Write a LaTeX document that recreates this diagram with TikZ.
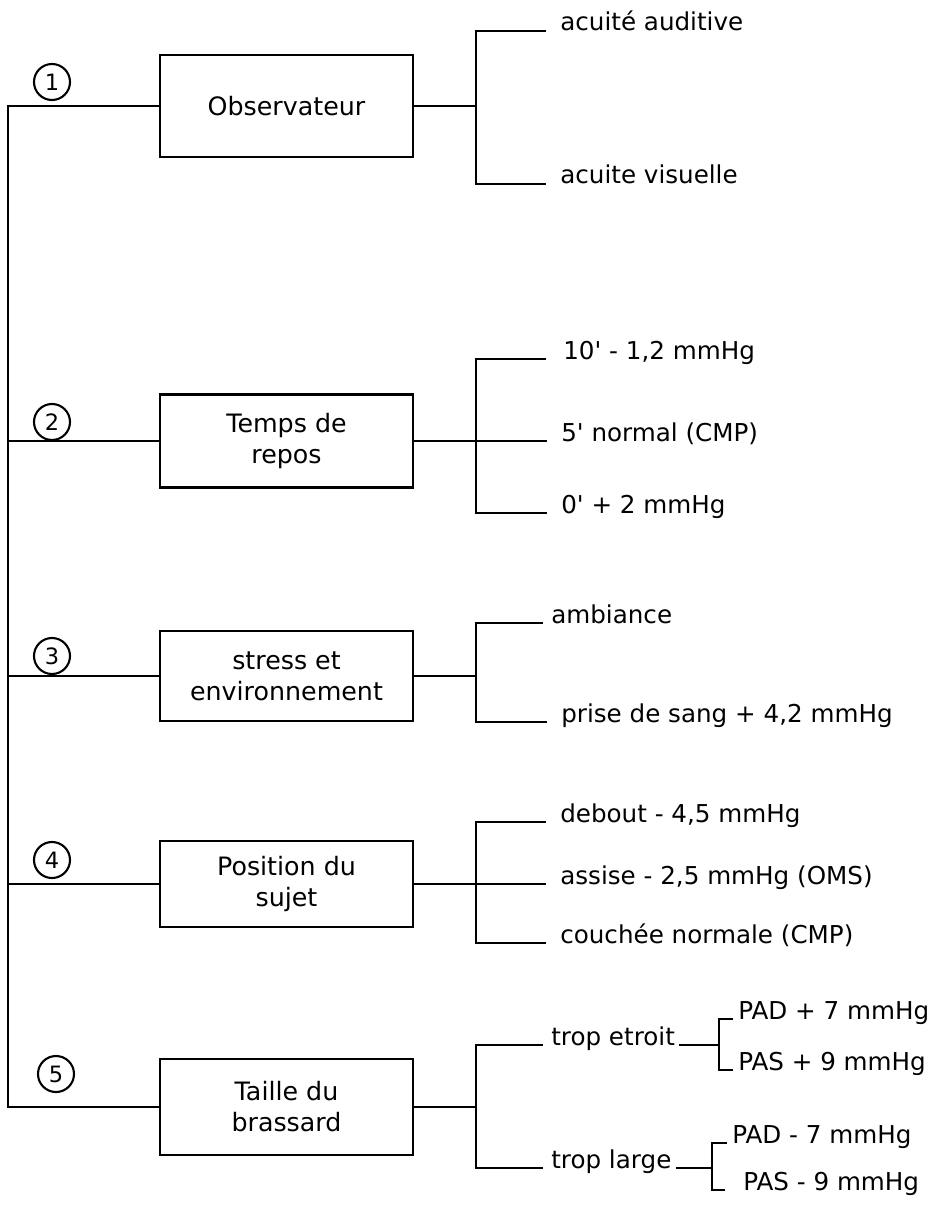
\documentclass[tikz,border=0pt]{standalone}
\usepackage{fontspec}
\setmainfont{DejaVu Sans}[Ligatures=TeXOff]
\usetikzlibrary{positioning,calc}
\tikzset{cbox/.style={draw, line width=2pt, minimum width=6.325cm, align=center, inner sep=2pt, font=\fontsize{18}{22}\selectfont}}
\tikzset{leaf/.style={anchor=base west, inner sep=0pt, font=\fontsize{17.5}{21}\selectfont}}
\tikzset{num/.style={circle, draw, line width=1.5pt, minimum size=0.9cm, inner sep=0pt, font=\fontsize{16}{16}\selectfont}}
\tikzset{ln/.style={draw, line width=2pt}}
\tikzset{lk/.style={ln, shorten >=0.35cm}}
\tikzset{lk1/.style={ln, shorten >=0.2cm}}
\tikzset{lk2/.style={ln, shorten >=0.12cm}}

\begin{document}
\begin{tikzpicture}[x=0.025cm, y=-0.025cm]
  \useasboundingbox (0,0) rectangle (927,1207);
  % les cinq facteurs
  \node[cbox, minimum height=2.55cm]  (obs) at (286.5,106)  {Observateur};
  \node[cbox, minimum height=2.325cm] (rep) at (286.5,441)  {Temps de\\repos};
  \node[cbox, minimum height=2.25cm]  (str) at (286.5,676)  {stress et\\environnement};
  \node[cbox, minimum height=2.15cm]  (pos) at (286.5,884)  {Position du\\sujet};
  \node[cbox, minimum height=2.4cm]   (tai) at (286.5,1107) {Taille du\\brassard};
  \node[num] (n1) at (52,82)   {1};
  \node[num] (n2) at (52,422)  {2};
  \node[num] (n3) at (52,656)  {3};
  \node[num] (n4) at (52,860)  {4};
  \node[num] (n5) at (56,1074) {5};
  \coordinate (t1) at (8,106);
  \coordinate (t5) at (8,1107);
  \draw[ln] (obs.west) -- (t1) -- (t5) -- (tai.west);
  \draw[ln] (rep.west) -- (rep.west -| t1);
  \draw[ln] (str.west) -- (str.west -| t1);
  \draw[ln] (pos.west) -- (pos.west -| t1);
%
  \coordinate (b1) at (476,106);
  \coordinate (b2) at (476,441);
  \coordinate (b3) at (476,676);
  \coordinate (b4) at (476,884);
  \coordinate (b5) at (476,1107);
  \draw[ln] (obs.east) -- (b1);
  \draw[ln] (rep.east) -- (b2);
  \draw[ln] (str.east) -- (b3);
  \draw[ln] (pos.east) -- (b4);
  \draw[ln] (tai.east) -- (b5);
  % observateur
  \node[leaf] (aud) at (560,31)  {acuité auditive};
  \node[leaf] (vis) at (560,184) {acuite visuelle};
  \draw[lk] (b1) |- (aud.base west);
  \draw[lk] (b1) |- (vis.base west);
  % repos
  \node[leaf] (r10) at (563,359) {10' - 1,2 mmHg};
  \node[leaf] (r5)  at (561,441) {5' normal (CMP)};
  \node[leaf] (r0)  at (561,513) {0' + 2 mmHg};
  \draw[lk, shorten >=0.42cm] (b2) |- (r10.base west);
  \draw[lk] (b2) -- (r5.base west);
  \draw[lk] (b2) |- (r0.base west);
  % stress
  \node[leaf] (amb) at (551,623) {ambiance};
  \node[leaf] (san) at (561,722) {prise de sang + 4,2 mmHg};
  \draw[lk1] (b3) |- (amb.base west);
  \draw[lk] (b3) |- (san.base west);
  % position
  \node[leaf] (deb) at (560,822) {debout - 4,5 mmHg};
  \node[leaf] (ass) at (560,884) {assise - 2,5 mmHg (OMS)};
  \node[leaf] (cou) at (560,943) {couchée normale (CMP)};
  \draw[lk] (b4) |- (deb.base west);
  \draw[lk] (b4) -- (ass.base west);
  \draw[lk] (b4) |- (cou.base west);
  % brassard
  \node[leaf] (etr) at (551,1045) {trop etroit};
  \node[leaf] (lar) at (551,1168) {trop large};
  \draw[lk1] (b5) |- (etr.base west);
  \draw[lk1] (b5) |- (lar.base west);
  \coordinate (s1) at (719,1045);
  \coordinate (s2) at (712,1168);
  \draw[ln, shorten <=3pt] (etr.base east) -- (s1);
  \draw[ln, shorten <=3pt] (lar.base east) -- (s2);
  \node[leaf] (pd1) at (738,1019) {PAD + 7 mmHg};
  \node[leaf] (ps1) at (738,1070) {PAS + 9 mmHg};
  \node[leaf] (pd2) at (732,1143) {PAD - 7 mmHg};
  \node[leaf] (ps2) at (743,1190) {PAS - 9 mmHg};
  \draw[lk2] (s1) |- (pd1.base west);
  \draw[lk2] (s1) |- (ps1.base west);
  \draw[lk2] (s2) |- (pd2.base west);
  \draw[ln, shorten >=0.45cm] (s2) |- (ps2.base west);
\end{tikzpicture}
\end{document}
